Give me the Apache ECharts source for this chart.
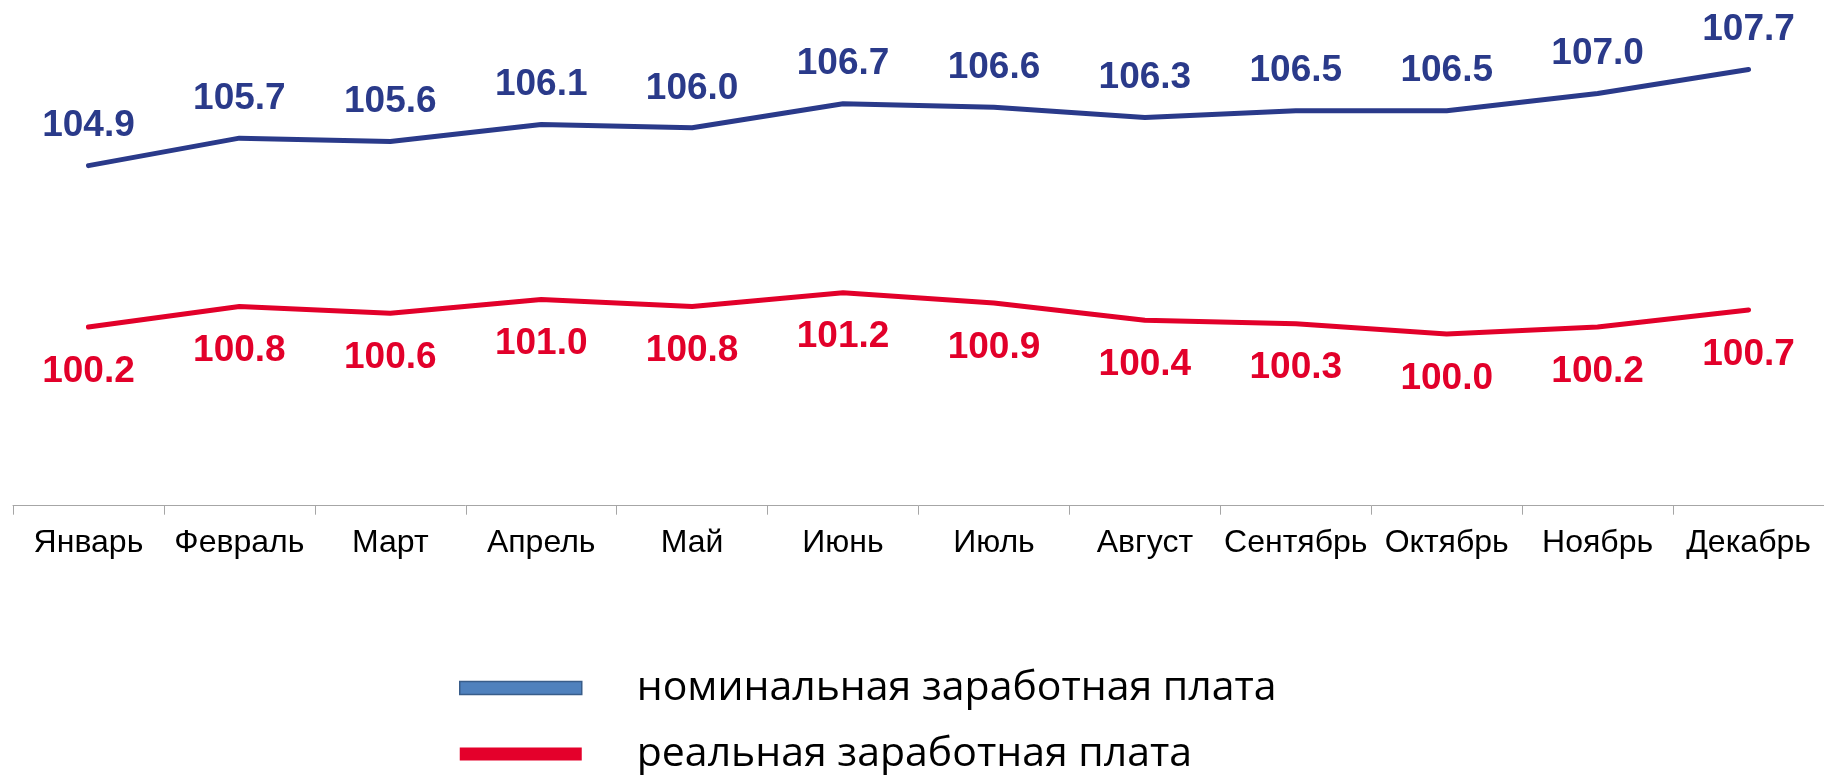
<!DOCTYPE html>
<html>
<head>
<meta charset="utf-8">
<script src="https://cdn.jsdelivr.net/npm/echarts@6/dist/echarts.min.js"></script>
<style>
html,body{margin:0;padding:0;background:#fff;}
#chart{width:1824px;height:775px;}
</style>
</head>
<body>
<div id="chart"></div>
<script>
const months = ['Январь','Февраль','Март','Апрель','Май','Июнь','Июль','Август','Сентябрь','Октябрь','Ноябрь','Декабрь'];
const nominal = [104.9,105.7,105.6,106.1,106.0,106.7,106.6,106.3,106.5,106.5,107.0,107.7];
const real = [100.2,100.8,100.6,101.0,100.8,101.2,100.9,100.4,100.3,100.0,100.2,100.7];
const seriesNames = ['номинальная заработная плата','реальная заработная плата'];

const BLUE = '#2A3A8A';
const RED = '#E2002A';

const chart = echarts.init(document.getElementById('chart'), null, {renderer:'canvas'});
chart.setOption({
  animation:false,
  backgroundColor:'#fff',
  grid:{left:13, width:1813.4, top:7.6, bottom:269.3, containLabel:false},
  xAxis:{
    type:'category',
    data:months,
    boundaryGap:true,
    axisLine:{lineStyle:{color:'#A6A6A6', width:1}},
    axisTick:{show:true, length:9, lineStyle:{color:'#A6A6A6', width:1}},
    axisLabel:{fontFamily:'Liberation Sans', fontSize:32, color:'#000', margin:21, interval:0}
  },
  yAxis:{
    type:'value', min:95, max:109.5, show:false,
    splitLine:{show:false}
  },
  legend:{
    orient:'vertical',
    left:459, top:667.5, height:300, padding:0,
    itemWidth:122, itemHeight:13, itemGap:25,
    textStyle:{fontFamily:'Open Sans', fontSize:41, color:'#000', lineHeight:40, padding:[0,0,0,50]},
    data:[
      {name:seriesNames[0], icon:'rect', itemStyle:{color:'#4F81BD', borderColor:'#385D8A', borderWidth:1.5}},
      {name:seriesNames[1], icon:'rect', itemStyle:{color:'#E4002B', borderWidth:0}}
    ],
    selectedMode:false
  },
  series:[
    {
      name:seriesNames[0], type:'line', data:nominal,
      symbol:'circle', symbolSize:0, showSymbol:true,
      lineStyle:{color:BLUE, width:5, cap:'round', join:'round'},
      itemStyle:{color:BLUE},
      label:{show:true, position:'top', distance:21, color:BLUE, fontFamily:'Liberation Sans', fontWeight:'bold', fontSize:37,
        formatter:p=>p.value.toFixed(1)}
    },
    {
      name:seriesNames[1], type:'line', data:real,
      symbol:'circle', symbolSize:0, showSymbol:true,
      lineStyle:{color:RED, width:5, cap:'round', join:'round'},
      itemStyle:{color:RED},
      label:{show:true, position:'bottom', distance:26, color:RED, fontFamily:'Liberation Sans', fontWeight:'bold', fontSize:37,
        formatter:p=>p.value.toFixed(1)}
    }
  ]
});
</script>
</body>
</html>
